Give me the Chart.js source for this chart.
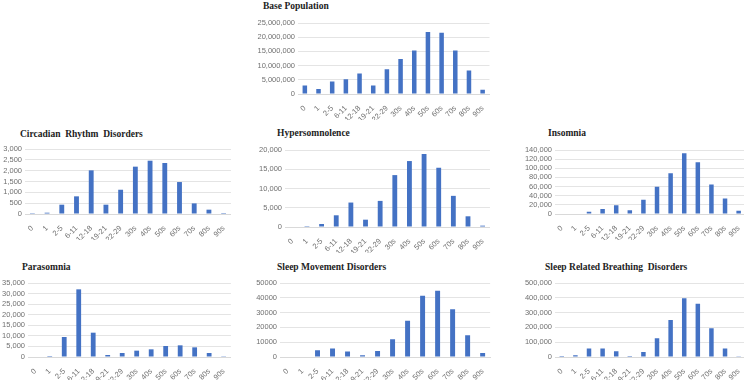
<!DOCTYPE html>
<html>
<head>
<meta charset="utf-8">
<script src="https://cdn.jsdelivr.net/npm/chart.js"></script>
<style>
  body { margin: 0; background: #fff; width: 744px; height: 380px; overflow: hidden; position: relative; }
  .box { position: absolute; }
  .titulo { position: absolute; font-family: "Liberation Serif", serif; font-weight: bold; font-size: 9.5px; color: #222; white-space: pre; }
</style>
</head>
<body>
<script>
const faixas = ['0', '1', '2-5', '6-11', '12-18', '19-21', '22-29', '30s', '40s', '50s', '60s', '70s', '80s', '90s'];

const basePopulation = [2950000, 1800000, 4400000, 5200000, 7200000, 2950000, 8700000, 12300000, 15300000, 21800000, 21600000, 15300000, 8300000, 1500000];
const circadian = [40, 60, 430, 815, 2015, 430, 1120, 2185, 2460, 2355, 1475, 490, 200, 45];
const hypersomnolence = [0, 20, 780, 3040, 6350, 1900, 6780, 13480, 17130, 18960, 15390, 8090, 2780, 350];
const insomnia = [0, 0, 5100, 10900, 18900, 8000, 31200, 59500, 89200, 132700, 113100, 64500, 34100, 7250];
const parasomnia = [0, 470, 9460, 32000, 11500, 950, 1900, 3000, 3630, 5200, 5520, 4570, 1900, 100];
const sleepMovement = [0, 0, 4550, 5680, 3640, 1140, 4090, 12050, 24550, 41360, 44770, 32270, 14770, 2730];
const breathing = [6800, 11400, 56800, 56800, 38600, 6800, 34000, 127000, 250000, 397700, 359000, 195000, 56800, 1000];

// titulo, dados, max, passo, separador de milhar
const paineis = [
  { titulo: 'Base Population', dados: basePopulation, max: 25000000, passo: 5000000, milhar: true },
  { titulo: 'Circadian  Rhythm  Disorders', dados: circadian, max: 3000, passo: 500, milhar: true },
  { titulo: 'Hypersomnolence', dados: hypersomnolence, max: 20000, passo: 5000, milhar: true },
  { titulo: 'Insomnia', dados: insomnia, max: 140000, passo: 20000, milhar: true },
  { titulo: 'Parasomnia', dados: parasomnia, max: 35000, passo: 5000, milhar: true },
  { titulo: 'Sleep Movement Disorders', dados: sleepMovement, max: 50000, passo: 10000, milhar: false },
  { titulo: 'Sleep Related Breathing  Disorders', dados: breathing, max: 500000, passo: 100000, milhar: true }
];

// posicoes: caixa do canvas, largura do eixo y, posicao do titulo
const posicoes = [
  { left: 253, top: 15, w: 238, h: 105, yw: 45, tx: 263, ty: 1 },
  { left: 0, top: 141, w: 232, h: 99, yw: 25, tx: 20, ty: 129 },
  { left: 255, top: 142, w: 236, h: 111, yw: 30, tx: 277, ty: 128 },
  { left: 522, top: 142, w: 225, h: 98, yw: 33, tx: 548, ty: 128 },
  { left: 0, top: 275, w: 232, h: 108, yw: 28, tx: 22, ty: 262 },
  { left: 255, top: 275, w: 236, h: 108, yw: 25, tx: 277, ty: 262 },
  { left: 520, top: 275, w: 227, h: 108, yw: 35, tx: 545, ty: 262 }
];

function criarGrafico(painel, pos) {
  const box = document.createElement('div');
  box.className = 'box';
  box.style.left = pos.left + 'px';
  box.style.top = pos.top + 'px';
  box.style.width = pos.w + 'px';
  box.style.height = pos.h + 'px';
  const canvas = document.createElement('canvas');
  box.appendChild(canvas);
  document.body.appendChild(box);

  const t = document.createElement('div');
  t.className = 'titulo';
  t.style.left = pos.tx + 'px';
  t.style.top = pos.ty + 'px';
  t.textContent = painel.titulo;
  document.body.appendChild(t);

  new Chart(canvas, {
    type: 'bar',
    data: {
      labels: faixas,
      datasets: [{
        data: painel.dados,
        backgroundColor: '#4472c4',
        barPercentage: 0.33,
        categoryPercentage: 1.0
      }]
    },
    options: {
      responsive: true,
      maintainAspectRatio: false,
      animation: false,
      layout: { padding: { top: 8, right: 0, left: 0, bottom: 0 } },
      plugins: { legend: { display: false }, tooltip: { enabled: false } },
      scales: {
        x: {
          grid: { display: false },
          border: { display: true, color: '#d9d9d9' },
          ticks: {
            color: '#707070',
            font: { family: 'Liberation Sans', size: 7.5 },
            minRotation: 45,
            maxRotation: 45,
            autoSkip: false,
            padding: 2
          },
          afterFit: function (scale) { scale.height = 26; }
        },
        y: {
          min: 0,
          max: painel.max,
          grid: { color: '#e4e4e4', drawTicks: false },
          border: { display: false },
          ticks: {
            stepSize: painel.passo,
            autoSkip: false,
            color: '#707070',
            padding: 3,
            font: { family: 'Liberation Sans', size: 7.5 },
            callback: function (v) {
              return painel.milhar ? v.toLocaleString('en-US') : String(v);
            }
          },
          afterFit: function (scale) { scale.width = pos.yw; }
        }
      }
    }
  });
}

for (let i = 0; i < paineis.length; i++) {
  criarGrafico(paineis[i], posicoes[i]);
}
</script>
</body>
</html>
